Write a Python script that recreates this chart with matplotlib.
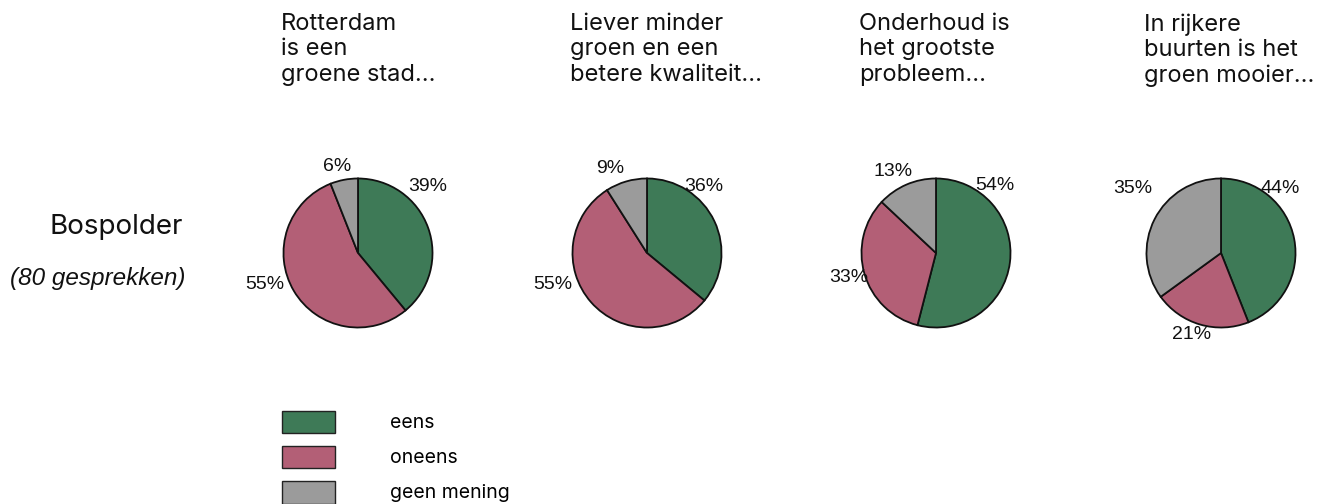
import matplotlib.pyplot as plt
from matplotlib.patches import Patch

plt.rcParams['font.family'] = ['Inter', 'Liberation Sans', 'DejaVu Sans']

# data
categories = ['eens', 'oneens', 'geen mening']
colors = ['#3e7a57', '#b35f76', '#9b9b9b']
titles = ['Rotterdam\nis een\ngroene stad...',
          'Liever minder\ngroen en een\nbetere kwaliteit...',
          'Onderhoud is\nhet grootste\nprobleem...',
          'In rijkere\nbuurten is het\ngroen mooier...']
eens = [39, 36, 54, 44]
oneens = [55, 55, 33, 21]
geen = [6, 9, 13, 35]
row_label = 'Bospolder'
row_note = '(80 gesprekken)'

# layout (pixels / pie-radius units)
W, H = 1326, 504
centers_x = [358, 647, 936, 1221]
center_y = 253
radius = 76
label_pos = [
    [(0.93, 0.89), (-1.25, -0.42), (-0.28, 1.16)],
    [(0.76, 0.89), (-1.26, -0.42), (-0.49, 1.13)],
    [(0.79, 0.91), (-1.17, -0.33), (-0.57, 1.10)],
    [(0.79, 0.87), (-0.39, -1.10), (-1.18, 0.87)],
]

fig = plt.figure(figsize=(W / 100, H / 100), dpi=100)

for i in range(4):
    cx = centers_x[i]
    ax = fig.add_axes([(cx - radius) / W, (H - center_y - radius) / H,
                       2 * radius / W, 2 * radius / H])
    vals = [eens[i], oneens[i], geen[i]]
    ax.pie(vals, colors=colors, startangle=90, counterclock=False,
           radius=1, wedgeprops=dict(edgecolor='#111111', linewidth=1.3))
    ax.set_xlim(-1.02, 1.02)
    ax.set_ylim(-1.02, 1.02)
    ax.set_aspect('equal')
    for v, (lx, ly) in zip(vals, label_pos[i]):
        ax.text(lx, ly, f'{v}%', ha='center', va='center', fontsize=14,
                family=['Liberation Sans'], color='#111111', clip_on=False)
    fig.text((cx - 77) / W, 1 - 13 / H, titles[i], ha='left', va='top',
             fontsize=17, linespacing=1.2, color='#111111')

fig.text(116 / W, 1 - 234 / H, row_label, ha='center', va='baseline',
         fontsize=20, color='#111111')
fig.text(98 / W, 1 - 285 / H, row_note, ha='center', va='baseline',
         fontsize=17.5, style='italic', family=['Liberation Sans'],
         color='#111111')

handles = [Patch(facecolor=c, edgecolor='#222222', linewidth=1.0) for c in colors]
fig.legend(handles, categories, loc='upper left',
           bbox_to_anchor=(264.5 / W, 1 - 393 / H), frameon=False,
           fontsize=14, handlelength=2.73, handleheight=1.44,
           handletextpad=2.83, labelspacing=0.62)

fig.savefig('out.png', dpi=100, facecolor='white')
